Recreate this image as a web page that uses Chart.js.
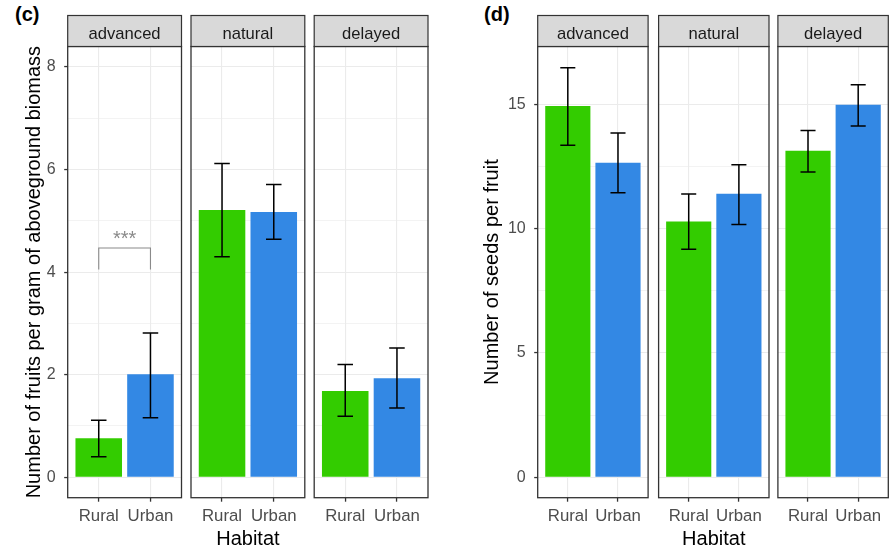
<!DOCTYPE html>
<html><head><meta charset="utf-8">
<script src="https://cdn.jsdelivr.net/npm/chart.js@4.4.0/dist/chart.umd.min.js"></script>
<style>
html,body{margin:0;padding:0;background:#fff;overflow:hidden;}
#wrap{position:relative;width:890px;height:548px;overflow:hidden;background:#fff;}
canvas{position:absolute;top:0;}
.lbl{position:absolute;font-family:"Liberation Sans",Arial,sans-serif;font-weight:bold;font-size:20px;line-height:20px;color:#000;}
</style></head><body>
<div id="wrap">
<div class="lbl" style="left:15px;top:4px">(c)</div>
<div class="lbl" style="left:484px;top:4px">(d)</div>
</div>
<script>
// ---------- data ----------
const facets = ['advanced', 'natural', 'delayed'];
const habitats = ['Rural', 'Urban'];

// panel (c): fruits per gram of aboveground biomass
const fruitRural     = [0.76, 5.21, 1.68];
const fruitUrban     = [2.01, 5.17, 1.93];
const fruitRuralLow  = [0.40, 4.30, 1.19];
const fruitRuralHigh = [1.11, 6.12, 2.20];
const fruitUrbanLow  = [1.16, 4.64, 1.35];
const fruitUrbanHigh = [2.81, 5.71, 2.52];
const fruitTicks      = [0, 2, 4, 6, 8];
const fruitMinorTicks = [1, 3, 5, 7];

// significance bracket in panel (c), facet "advanced"
const sigLabels = ['***'];
const sigTop    = [4.47];
const sigTip    = [4.05];

// panel (d): seeds per fruit
const seedRural     = [14.93, 10.29, 13.13];
const seedUrban     = [12.65, 11.40, 14.98];
const seedRuralLow  = [13.35, 9.17, 12.28];
const seedRuralHigh = [16.47, 11.39, 13.95];
const seedUrbanLow  = [11.44, 10.16, 14.13];
const seedUrbanHigh = [13.85, 12.57, 15.79];
const seedTicks      = [0, 5, 10, 15];
const seedMinorTicks = [2.5, 7.5, 12.5];

// ---------- styling / layout ----------
const FONT = '"Liberation Sans", Arial, sans-serif';
const GREEN = '#33CC00', BLUE = '#3388E4';
const PLOT_TOP = 46.5, PLOT_BOTTOM = 497.7, H = 548, STRIP_H = 31;

const panels = [
  { canvasLeft0: 0, lefts: [67.7, 191, 314.2], width: 113.8, yMin: -0.4, yMax: 8.4,
    title: 'Number of fruits per gram of aboveground biomass', titlePad: 22.2,
    majors: fruitTicks, minors: fruitMinorTicks,
    means: [fruitRural, fruitUrban], lows: [fruitRuralLow, fruitUrbanLow], highs: [fruitRuralHigh, fruitUrbanHigh],
    capW: 0.3, sigFacet: 0 },
  { canvasLeft0: 445, lefts: [537.7, 658.6, 777.9], width: 110.4, yMin: -0.825, yMax: 17.325,
    title: 'Number of seeds per fruit', titlePad: 35.5,
    majors: seedTicks, minors: seedMinorTicks,
    means: [seedRural, seedUrban], lows: [seedRuralLow, seedUrbanLow], highs: [seedRuralHigh, seedUrbanHigh],
    capW: 0.3, sigFacet: -1 }
];

const facetPlugin = {
  id: 'facet',
  afterDatasetsDraw(chart, args, o) {
    const ctx = chart.ctx, xs = chart.scales.x, ys = chart.scales.y;
    ctx.save();
    ctx.strokeStyle = '#000'; ctx.lineWidth = 1.5;
    o.lows.forEach((lo, i) => {
      const hi = o.highs[i];
      const x = xs.getPixelForValue(i + 1);
      const xl = xs.getPixelForValue(i + 1 - o.capW / 2), xr = xs.getPixelForValue(i + 1 + o.capW / 2);
      const yl = ys.getPixelForValue(lo), yh = ys.getPixelForValue(hi);
      ctx.beginPath();
      ctx.moveTo(x, yl); ctx.lineTo(x, yh);
      ctx.moveTo(xl, yl); ctx.lineTo(xr, yl);
      ctx.moveTo(xl, yh); ctx.lineTo(xr, yh);
      ctx.stroke();
    });
    if (o.sig) {
      o.sig.labels.forEach((lab, k) => {
        const x1 = xs.getPixelForValue(1), x2 = xs.getPixelForValue(2);
        const yt = ys.getPixelForValue(o.sig.top[k]), yb = ys.getPixelForValue(o.sig.tip[k]);
        ctx.strokeStyle = '#8a8a8a'; ctx.lineWidth = 1.1;
        ctx.beginPath();
        ctx.moveTo(x1, yb); ctx.lineTo(x1, yt); ctx.lineTo(x2, yt); ctx.lineTo(x2, yb);
        ctx.stroke();
        ctx.fillStyle = '#8a8a8a';
        ctx.font = '20px ' + FONT;
        ctx.textAlign = 'center'; ctx.textBaseline = 'alphabetic';
        ctx.fillText(lab, (x1 + x2) / 2, yt - 3);
      });
    }
    ctx.restore();
  },
  afterDraw(chart, args, o) {
    const ctx = chart.ctx, a = chart.chartArea;
    const w = a.right - a.left, h = a.bottom - a.top;
    ctx.save();
    ctx.strokeStyle = '#333333'; ctx.lineWidth = 1.3;
    ctx.strokeRect(a.left, a.top, w, h);
    const top = a.top - STRIP_H;
    ctx.fillStyle = '#d9d9d9';
    ctx.fillRect(a.left, top, w, STRIP_H);
    ctx.lineWidth = 1.2;
    ctx.strokeRect(a.left, top, w, STRIP_H);
    ctx.fillStyle = '#1a1a1a';
    ctx.font = '16.6px ' + FONT;
    ctx.textAlign = 'center'; ctx.textBaseline = 'middle';
    ctx.fillText(o.strip, (a.left + a.right) / 2, top + 18.5);
    ctx.restore();
  }
};

const wrap = document.getElementById('wrap');

panels.forEach(p => {
  const allTicks = p.majors.concat(p.minors).sort((a, b) => a - b);
  const isMajor = v => p.majors.includes(v);
  facets.forEach((fname, f) => {
    const first = f === 0;
    const fl = p.lefts[f], fr = fl + p.width;
    const cL = first ? p.canvasLeft0 : Math.floor(fl) - 3;
    const cW = Math.ceil(fr) + 3 - cL;
    const padLeft = first ? 0 : fl - cL;
    const padRight = cW - (fr - cL);
    const yAxisW = first ? fl - cL : 0;

    const cv = document.createElement('canvas');
    cv.width = cW; cv.height = H;
    cv.style.left = cL + 'px';
    cv.style.width = cW + 'px'; cv.style.height = H + 'px';
    wrap.appendChild(cv);

    const means = habitats.map((h, i) => p.means[i][f]);
    const lows = habitats.map((h, i) => p.lows[i][f]);
    const highs = habitats.map((h, i) => p.highs[i][f]);

    new Chart(cv, {
      type: 'bar',
      data: {
        datasets: [{
          data: habitats.map((h, i) => ({ x: i + 1, y: means[i] })),
          backgroundColor: [GREEN, BLUE],
          borderWidth: 0,
          barPercentage: 0.9,
          categoryPercentage: 1.0
        }]
      },
      options: {
        responsive: false,
        animation: false,
        layout: { padding: { top: PLOT_TOP, bottom: 0, left: padLeft, right: padRight } },
        plugins: {
          legend: { display: false },
          tooltip: { enabled: false },
          facet: {
            strip: fname, lows, highs, capW: p.capW,
            sig: (p.sigFacet === f) ? { labels: sigLabels, top: sigTop, tip: sigTip } : null
          }
        },
        scales: {
          x: {
            type: 'linear', min: 0.4, max: 2.6, offset: false,
            afterBuildTicks: s => { s.ticks = habitats.map((h, i) => ({ value: i + 1 })); },
            ticks: {
              callback: v => habitats[Math.round(v) - 1],
              font: { family: FONT, size: 16.8 }, color: '#4d4d4d',
              padding: 5, maxRotation: 0, minRotation: 0, autoSkip: false
            },
            grid: { offset: false, color: '#ebebeb', lineWidth: 1.1, tickColor: '#333333', tickLength: 4, tickWidth: 1.3 },
            border: { display: false },
            title: {
              display: f === 1, text: 'Habitat', color: '#000',
              font: { family: FONT, size: 20, lineHeight: 0.9 }, padding: 0
            },
            afterFit: s => { s.height = H - PLOT_BOTTOM; }
          },
          y: {
            type: 'linear', min: p.yMin, max: p.yMax,
            afterBuildTicks: s => { s.ticks = allTicks.map(v => ({ value: v })); },
            ticks: {
              display: first,
              callback: v => isMajor(v) ? String(v) : '',
              font: { family: FONT, size: 16 }, color: '#4d4d4d',
              padding: 8.5, autoSkip: false
            },
            grid: {
              color: '#ebebeb',
              lineWidth: c => (c.tick && isMajor(c.tick.value)) ? 1.1 : 0.6,
              drawTicks: first, tickLength: 3.5, tickWidth: 1.3,
              tickColor: c => (c.tick && isMajor(c.tick.value)) ? '#333333' : 'rgba(0,0,0,0)'
            },
            border: { display: false },
            title: {
              display: first, text: p.title, color: '#000',
              font: { family: FONT, size: 20 }, padding: { top: p.titlePad, bottom: 0 }
            },
            afterFit: s => { s.width = yAxisW; }
          }
        }
      },
      plugins: [facetPlugin]
    });
  });
});
</script>
</body></html>
